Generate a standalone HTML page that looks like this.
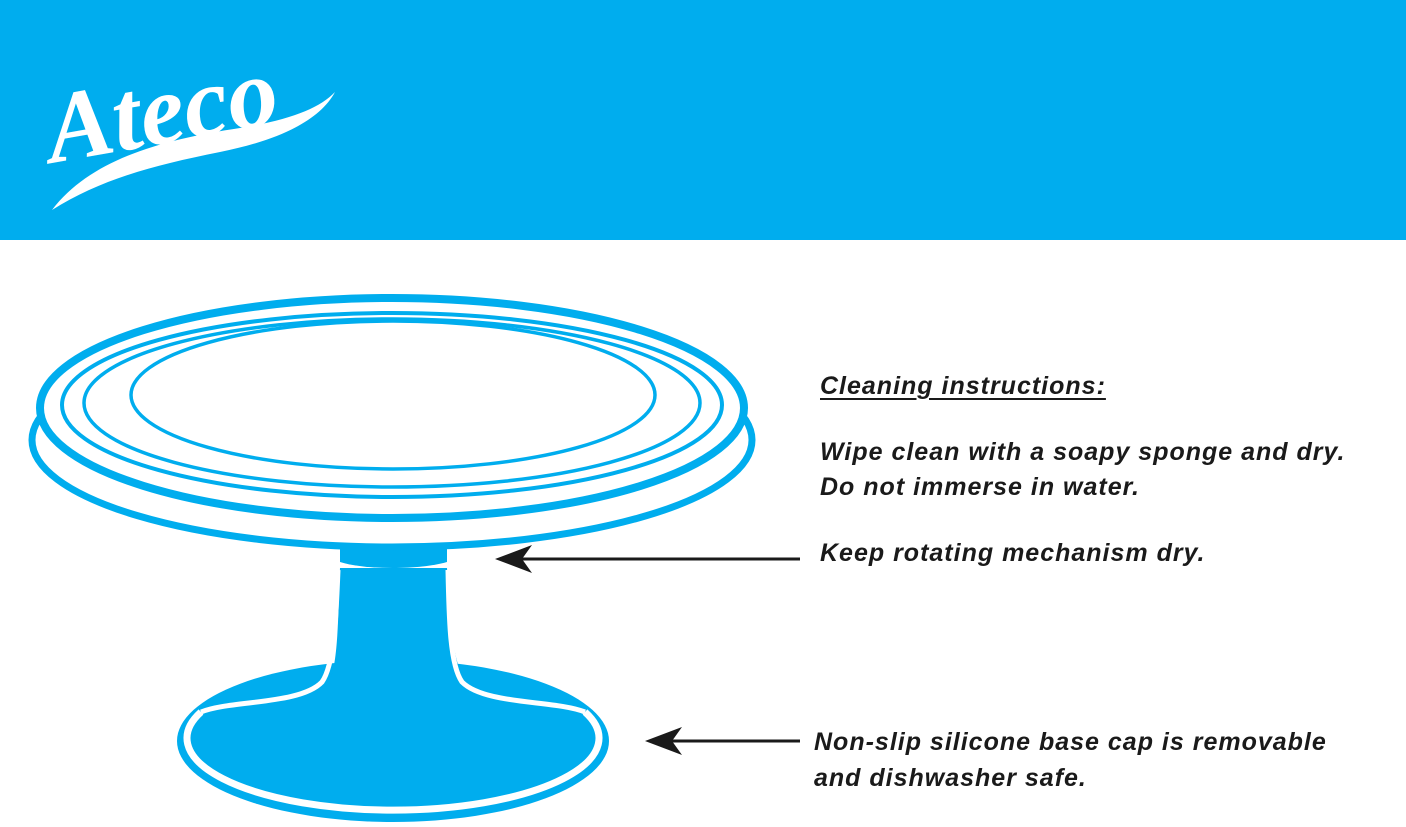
<!DOCTYPE html>
<html><head><meta charset="utf-8"><style>
html,body{margin:0;padding:0;background:#fff;}
body{width:1406px;height:827px;overflow:hidden;position:relative;font-family:"Liberation Sans",Arial,sans-serif;}
.t{position:absolute;font-style:italic;font-weight:bold;font-size:25px;color:#1a1a1a;white-space:nowrap;letter-spacing:1px;}
</style></head><body>
<svg width="1406" height="827" style="position:absolute;left:0;top:0">
<rect x="0" y="0" width="1406" height="240" fill="#00adee"/>
<!-- logo -->
<text x="45" y="140" fill="#fff" font-family="Liberation Serif,serif" font-style="italic" font-weight="bold" font-size="100" transform="rotate(-10 180 110)">Ateco</text>
<path d="M52 210 C90 160 160 140 240 128 C290 120 320 108 335 92 C320 120 280 140 220 152 C150 166 100 180 52 210 Z" fill="#fff"/>
<!-- base -->
<ellipse cx="393" cy="741" rx="216" ry="81" fill="#00adee"/>
<path d="M201 712 A206 72 0 1 0 585 712" fill="none" stroke="#fff" stroke-width="7"/>
<!-- stem -->
<path d="M340 568 L447 568 C450 620 452 660 465 680 C475 695 495 700 505 700 L300 700 C315 700 325 690 330 680 C338 660 338 620 340 568 Z" fill="#00adee"/>
<path d="M201 712 C230 700 300 705 322 682 C334 665 336 620 338 570" stroke="#fff" stroke-width="5" fill="none"/>
<path d="M585 712 C555 700 485 705 462 682 C450 665 449 620 448 570" stroke="#fff" stroke-width="5" fill="none"/>
<!-- collar -->
<path d="M340 545 L447 545 L447 562 C420 570 365 570 340 562 Z" fill="#00adee"/>
<!-- lower rim -->
<ellipse cx="392" cy="440" rx="360" ry="107" fill="#fff" stroke="#00adee" stroke-width="7"/>
<!-- top surface -->
<ellipse cx="392" cy="408" rx="352" ry="110" fill="#fff" stroke="#00adee" stroke-width="8"/>
<ellipse cx="392" cy="405" rx="330" ry="92" fill="none" stroke="#00adee" stroke-width="4"/>
<ellipse cx="392" cy="403" rx="308" ry="84" fill="none" stroke="#00adee" stroke-width="3.5"/>
<ellipse cx="393" cy="395" rx="262" ry="74" fill="none" stroke="#00adee" stroke-width="3.5"/>
<!-- arrows -->
<line x1="520" y1="559" x2="800" y2="559" stroke="#1a1a1a" stroke-width="3"/>
<path d="M495 559 L532 545 L522 559 L532 573 Z" fill="#1a1a1a"/>
<line x1="670" y1="741" x2="800" y2="741" stroke="#1a1a1a" stroke-width="3"/>
<path d="M645 741 L682 727 L672 741 L682 755 Z" fill="#1a1a1a"/>
</svg>
<div class="t" style="left:820px;top:372px;text-decoration:underline;text-underline-offset:4px">Cleaning instructions:</div>
<div class="t" style="left:820px;top:438px">Wipe clean with a soapy sponge and dry.</div>
<div class="t" style="left:820px;top:473px">Do not immerse in water.</div>
<div class="t" style="left:820px;top:539px">Keep rotating mechanism dry.</div>
<div class="t" style="left:814px;top:728px">Non-slip silicone base cap is removable</div>
<div class="t" style="left:814px;top:764px">and dishwasher safe.</div>
</body></html>
